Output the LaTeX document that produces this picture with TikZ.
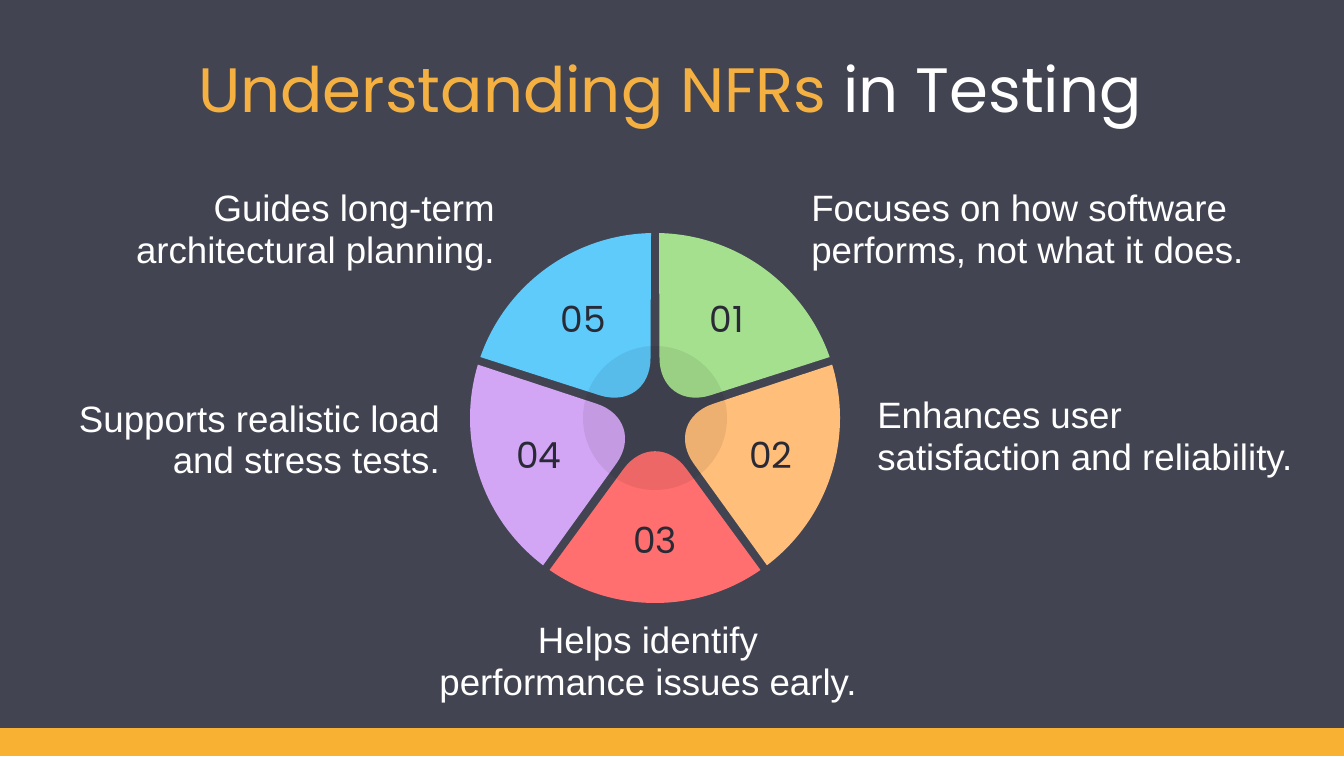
\documentclass[tikz,border=0pt]{standalone}
\usepackage{fontspec}
\setmainfont{Liberation Sans}
\newfontfamily\titlefont{Poppins}
\definecolor{bg}{HTML}{424452}
\definecolor{ttl}{HTML}{F5B042}
\definecolor{bar}{HTML}{F8B133}
\definecolor{cA}{HTML}{A5E08F}
\definecolor{cB}{HTML}{FFBE7A}
\definecolor{cC}{HTML}{FF6F6F}
\definecolor{cD}{HTML}{D3A6F5}
\definecolor{cE}{HTML}{5ECBFB}
\definecolor{num}{HTML}{2A2A36}
\begin{document}
\begin{tikzpicture}[x=0.75pt,y=0.75pt,
  body/.style={text=white,font=\fontsize{27.5}{31}\selectfont,inner sep=0pt},
  numlab/.style={text=num,font=\titlefont\fontsize{27}{30}\selectfont}]
\fill[bg] (0,0) rectangle (1344,756);
\fill[bar] (0,0) rectangle (1344,28);
\useasboundingbox (0,0) rectangle (1344,756);
\node[inner sep=0pt,font=\titlefont\fontsize{47}{56}\selectfont] (title) at (670,659) {\textcolor{ttl}{Understanding NFRs} \textcolor{white}{in Testing}};
\begin{scope}[shift={(655,338)}]
\foreach \a/\c/\n/\nm in {18/cA/01/s1,-54/cB/02/s2,-126/cC/03/s3,162/cD/04/s4,90/cE/05/s5}{
  \pgfmathsetmacro\b{\a+72}
  \pgfmathsetmacro\m{\a+36}
  \fill[\c] (\b-1.24:185) [rounded corners=40pt] -- (\m:8) [sharp corners] -- (\a+1.24:185) arc[start angle=\a+1.24,end angle=\b-1.24,radius=185] -- cycle;
  \node[numlab] (\nm) at (\m:122) {\n};
}
\fill[black,opacity=0.07] (0,0) circle (72);
\end{scope}
\node[body,align=right,anchor=east] (t5) at (495,523) {Guides long-term\\architectural planning.};
\node[body,align=left,anchor=west] (t1) at (811,523) {Focuses on how software\\performs, not what it does.};
\node[body,align=left,anchor=west] (t2) at (877,316) {Enhances user\\satisfaction and reliability.};
\node[body,align=right,anchor=east] (t4) at (440,316) {Supports realistic load\\and stress tests.};
\node[body,align=center] (t3) at (648,91) {Helps identify\\performance issues early.};
\end{tikzpicture}
\end{document}
